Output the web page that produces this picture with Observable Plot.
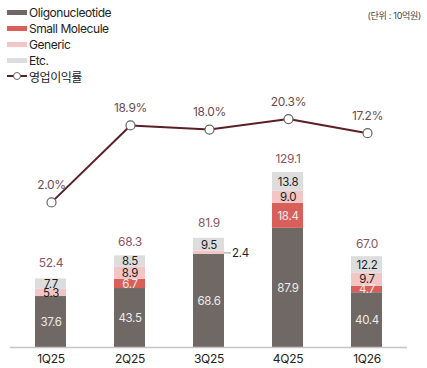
<!DOCTYPE html>
<html>
<head>
<meta charset="utf-8">
<script src="https://cdn.jsdelivr.net/npm/d3@7"></script>
<script src="https://cdn.jsdelivr.net/npm/@observablehq/plot@0.6"></script>
<style>
  body { margin: 0; background: #fff; }
  #wrap { position: relative; width: 427px; height: 368px; font-family: Inter, "Noto Sans CJK KR", sans-serif; overflow: hidden; }
  #wrap > svg { position: absolute; left: 0; top: 0; }
  .legend { position: absolute; left: 7px; top: 5px; font-size: 12px; letter-spacing: -0.45px; color: #222; }
  .row { height: 15.8px; display: flex; align-items: center; white-space: nowrap; }
  .sw { width: 20px; height: 5px; margin-right: 2px; }
  .unit { position: absolute; right: 6px; top: 9px; font-size: 9px; color: #444; letter-spacing: -0.3px; }
</style>
</head>
<body>
<div id="wrap"></div>
<script>
const quarters = ["1Q25", "2Q25", "3Q25", "4Q25", "1Q26"];
const seriesNames = ["Oligonucleotide", "Small Molecule", "Generic", "Etc."];
const seriesColors = ["#6f6865", "#d9605a", "#f3c5c5", "#dddddd"];
const oligo = [37.6, 43.5, 68.6, 87.9, 40.4];
const smallMolecule = [0, 6.7, 0, 18.4, 4.7];
const generic = [5.3, 8.9, 2.4, 9.0, 9.7];
const etc = [7.7, 8.5, 9.5, 13.8, 12.2];
const totals = [52.4, 68.3, 81.9, 129.1, 67.0];
const opMargin = [2.0, 18.9, 18.0, 20.3, 17.2];
const lineName = "영업이익률";
const unitLabel = "(단위 : 10억원)";

const valuesBySeries = [oligo, smallMolecule, generic, etc];
const rows = [];
quarters.forEach((q, i) => {
  seriesNames.forEach((s, j) => {
    rows.push({quarter: q, series: s, value: valuesBySeries[j][i]});
  });
});
const outside = d => d.quarter === "3Q25" && d.series === "Generic";
const lightText = new Set(["Oligonucleotide", "Small Molecule"]);
const totalRows = quarters.map((q, i) => ({quarter: q, total: totals[i]}));
const pctRows = quarters.map((q, i) => ({quarter: q, pct: opMargin[i]}));

const xOpts = {domain: quarters, paddingInner: 0.61, paddingOuter: 0.31};
const font = "Inter, 'Noto Sans CJK KR', sans-serif";

const bars = Plot.plot({
  width: 427, height: 368,
  marginLeft: 10, marginRight: 20, marginTop: 0, marginBottom: 21,
  style: {fontFamily: font, fontSize: "12px", background: "transparent", color: "#222", letterSpacing: "-0.3px"},
  x: {...xOpts, tickSize: 0, tickPadding: 7, label: null},
  y: {axis: null, domain: [0, 129.1], range: [347, 172]},
  color: {domain: seriesNames, range: seriesColors},
  marks: [
    Plot.barY(rows, Plot.stackY({x: "quarter", y: "value", z: "series", fill: "series", order: seriesNames})),
    Plot.text(rows, Plot.stackY({x: "quarter", y: "value", z: "series", order: seriesNames,
      text: d => (lightText.has(d.series) && d.value > 0) ? d.value.toFixed(1) : null,
      fill: "#efebe8", fontSize: 11.5})),
    Plot.text(rows, Plot.stackY({x: "quarter", y: "value", z: "series", order: seriesNames,
      text: d => (!lightText.has(d.series) && d.value > 0 && !outside(d)) ? d.value.toFixed(1) : null,
      fill: "#1e1e1e", fontSize: 11.5})),
    Plot.tickY(rows.filter(outside), {x: "quarter", y: d => oligo[2] + d.value / 2, stroke: "#999", strokeWidth: 1, dx: 31, insetRight: 24}),
    Plot.text(rows.filter(outside), {x: "quarter", y: d => oligo[2] + d.value / 2, text: d => d.value.toFixed(1), dx: 23, textAnchor: "start", fill: "#1e1e1e", fontSize: 11.5}),
    Plot.text(totalRows, {x: "quarter", y: "total", text: d => d.total.toFixed(1), dy: -13, fill: "#8a5565", fontSize: 12}),
    Plot.ruleY([0], {stroke: "#c4c4c4", strokeWidth: 1.5})
  ]
});

const line = Plot.plot({
  width: 427, height: 368,
  marginLeft: 10, marginRight: 20, marginTop: 0, marginBottom: 21,
  style: {fontFamily: font, fontSize: "12px", background: "transparent", letterSpacing: "-0.3px"},
  x: {...xOpts, axis: null},
  y: {axis: null, domain: [0, 20.3], range: [211, 118.6]},
  marks: [
    Plot.line(pctRows, {x: "quarter", y: "pct", stroke: "#5b1f26", strokeWidth: 2}),
    Plot.dot(pctRows, {x: "quarter", y: "pct", r: 4.5, fill: "white", stroke: "#666", strokeWidth: 1.2}),
    Plot.text(pctRows, {x: "quarter", y: "pct", text: d => d.pct.toFixed(1) + "%", dy: -17, fill: "#6a4c52", fontSize: 12})
  ]
});

const wrap = document.getElementById("wrap");
wrap.appendChild(bars);
wrap.appendChild(line);

const legend = document.createElement("div");
legend.className = "legend";
seriesNames.forEach((s, j) => {
  const r = document.createElement("div");
  r.className = "row";
  r.innerHTML = `<span class="sw" style="background:${seriesColors[j]}"></span><span>${s}</span>`;
  legend.appendChild(r);
});
const lr = document.createElement("div");
lr.className = "row";
lr.innerHTML = `<svg width="22" height="10"><line x1="0" x2="20" y1="5" y2="5" stroke="#5b1f26" stroke-width="2"/><circle cx="10" cy="5" r="3.5" fill="white" stroke="#666" stroke-width="1"/></svg><span>${lineName}</span>`;
legend.appendChild(lr);
wrap.appendChild(legend);

const unit = document.createElement("div");
unit.className = "unit";
unit.textContent = unitLabel;
wrap.appendChild(unit);
</script>
</body>
</html>
